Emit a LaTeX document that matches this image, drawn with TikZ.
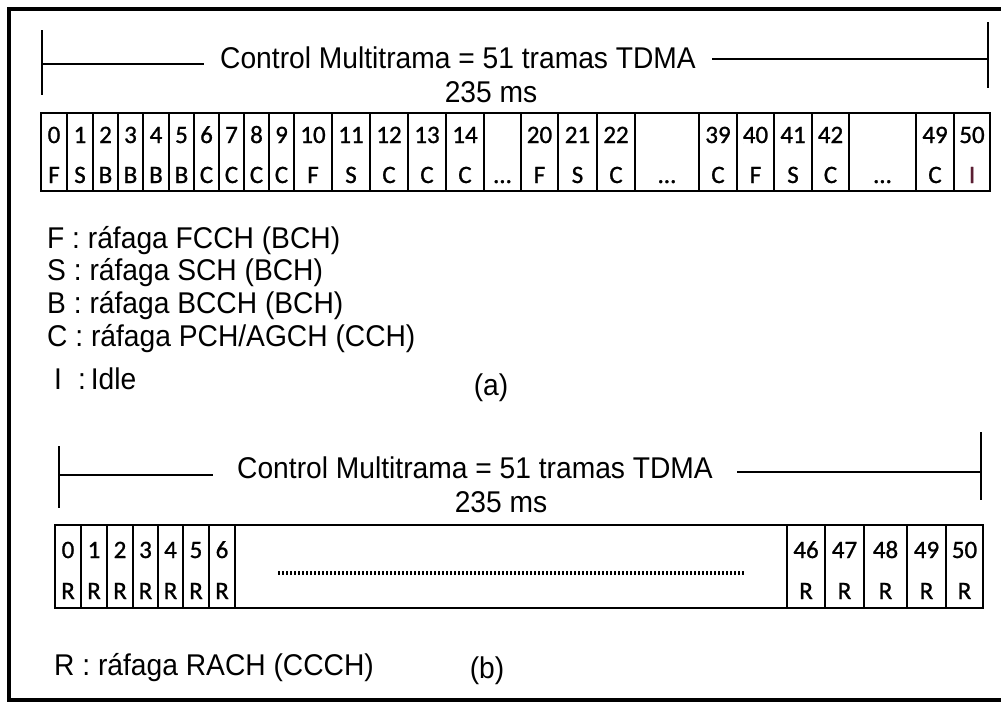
\documentclass[tikz,border=0pt]{standalone}
\usepackage{fontspec}
\setmainfont[FakeStretch=0.94]{Liberation Sans}
\newfontfamily\celdafont[FakeBold=1]{Carlito}
\usepackage{tikz}
\definecolor{idle}{RGB}{90,30,50}

\begin{document}
\begin{tikzpicture}[x=1pt,y=-1pt,
  titulo/.style={font=\fontsize{30}{36}\selectfont, anchor=base, inner ysep=0pt},
  leyenda/.style={font=\fontsize{30}{36}\selectfont, anchor=base west, inner sep=0pt},
  num/.style={font=\celdafont\fontsize{25}{30}\selectfont, anchor=base, inner sep=0pt},
  celda/.style={line width=1.4pt},
  linea/.style={line width=1.2pt},
  puntos/.style={line width=3.2pt, dash pattern=on 2.2pt off 1.8pt}]
\useasboundingbox (0,0) rectangle (1001,704);

% marco
\draw[line width=3.5pt] (1010,9) -- (9,9) -- (9,700) -- (1010,700);

% (a) cabecera
\coordinate (a-ini) at (42,64);
\coordinate (a-fin) at (988,59);
\node[titulo, inner xsep=16pt] (a-titulo) at (458,68) {Control Multitrama = 51 tramas TDMA};
\node[titulo, inner sep=0pt] (a-ms) at (491,102) {235 ms};
\draw[linea] (a-ini) -- (a-ini -| a-titulo.west);
\draw[linea] (a-titulo.east |- a-fin) -- (a-fin);
\draw[linea] (a-ini) ++(0,-34) -- ++(0,65);
\draw[linea] (a-fin) ++(0,-37) -- ++(0,66);

% (a) tramas
\foreach \xa/\xb/\n/\l [count=\i] in {41/67/0/F, 67/93/1/S, 93/118/2/B, 118/143/3/B,
  143/169/4/B, 169/194/5/B, 194/219/6/C, 219/244/7/C, 244/269/8/C, 269/294/9/C,
  294/332/10/F, 332/370/11/S, 370/408/12/C, 408/446/13/C, 446/484/14/C, 484/521//\ldots,
  521/558/20/F, 558/597/21/S, 597/635/22/C, 635/699//\ldots, 699/737/39/C, 737/774/40/F,
  774/812/41/S, 812/849/42/C, 849/916//\ldots, 916/954/49/C, 954/990/50/\textcolor{idle}{I}}
{
  \draw[celda] (\xa,113) rectangle (\xb,191);
  \node[num] (a-n\i) at ({(\xa+\xb)/2},143) {\n};
  \node[num] (a-l\i) at ({(\xa+\xb)/2},183) {\l};
}

% (a) leyenda
\node[leyenda] (ley-f) at (47,248) {F : ráfaga FCCH (BCH)};
\node[leyenda] (ley-s) at (47,280) {S : ráfaga SCH (BCH)};
\node[leyenda] (ley-b) at (47,313) {B : ráfaga BCCH (BCH)};
\node[leyenda] (ley-c) at (47,346) {C : ráfaga PCH/AGCH (CCH)};
\node[leyenda] (ley-i) at (54,389) {I\hspace{16pt}:\,Idle};
\node[titulo, inner sep=0pt] (rot-a) at (491,395) {(a)};

% (b) cabecera
\coordinate (b-ini) at (59,475);
\coordinate (b-fin) at (981,472);
\node[titulo, inner xsep=24pt] (b-titulo) at (475,478) {Control Multitrama = 51 tramas TDMA};
\node[titulo, inner sep=0pt] (b-ms) at (501,512) {235 ms};
\draw[linea] (b-ini) -- (b-ini -| b-titulo.west);
\draw[linea] (b-titulo.east |- b-fin) -- (b-fin);
\draw[linea] (b-ini) ++(0,-29) -- ++(0,62);
\draw[linea] (b-fin) ++(0,-40) -- ++(0,68);

% (b) tramas
\draw[celda] (55,525) rectangle (983,608);
\foreach \xa/\xb/\n [count=\i] in {55/81/0, 81/107/1, 107/133/2, 133/158/3, 158/183/4,
  183/209/5, 209/235/6, 787/825/46, 825/864/47, 864/907/48, 907/946/49, 946/983/50}
{
  \draw[celda] (\xa,525) rectangle (\xb,608);
  \node[num] (b-n\i) at ({(\xa+\xb)/2},558) {\n};
  \node[num] (b-l\i) at ({(\xa+\xb)/2},599) {R};
}
\coordinate (b-pun-ini) at (278,573);
\coordinate (b-pun-fin) at (745,573);
\draw[puntos] (b-pun-ini) -- (b-pun-fin);

% (b) leyenda
\node[leyenda] (ley-r) at (54,675) {R : ráfaga RACH (CCCH)};
\node[titulo, inner sep=0pt] (rot-b) at (487,678) {(b)};
\end{tikzpicture}
\end{document}
